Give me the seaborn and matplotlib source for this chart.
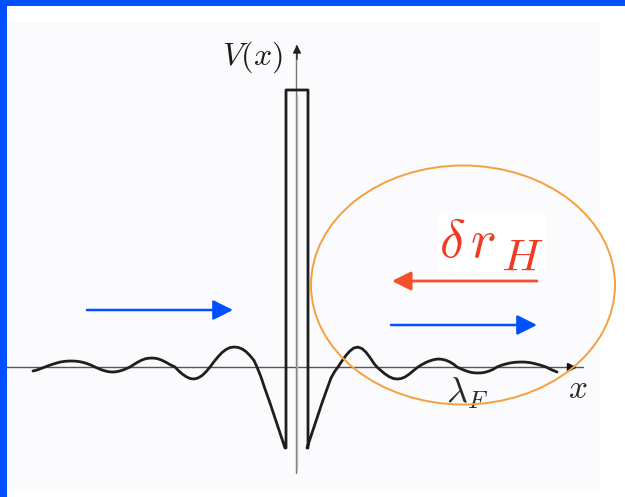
import matplotlib
matplotlib.use("Agg")
import matplotlib.pyplot as plt
import matplotlib.patches as mpatches
import seaborn as sns
import pandas as pd

# ---- data (diagram coordinates, pixels, y downward) ----
left_wave_x = [33, 37, 41, 45, 50, 55, 60, 65, 70, 75, 80, 85, 90, 95,
               99, 103, 107, 111, 115, 119, 123, 127, 130,
               134, 138, 142, 146, 150, 154, 158, 162, 166, 170, 175,
               178, 182, 186, 190, 194, 198, 202, 206, 210,
               214, 218, 222, 226, 230, 234, 238, 242, 246, 250, 254, 257,
               261, 265, 270, 275, 280, 285]
left_wave_y = [371, 370, 368.5, 367, 365.1, 363.5, 362.1, 361.3, 361, 361.1, 361.7, 362.9, 364.7, 367,
               368.8, 370.3, 371.4, 372, 371.9, 371.2, 370, 368.3, 367,
               364.4, 362, 360, 358.6, 358.1, 358.1, 358.8, 360.3, 362.3, 364.6, 367,
               370.2, 373.8, 376.6, 378.5, 379, 378, 375.6, 371.8, 367,
               361.7, 356.8, 352.6, 349.5, 347.6, 347, 347.4, 348.9, 351.6, 355.6, 360.5, 367,
               377, 389, 403, 418, 433, 448]
barrier_x = [286, 286, 308, 308]
barrier_y = [448, 90, 90, 448]
right_wave_x = [307, 312, 317, 322, 327, 331, 335, 338,
                342, 346, 350, 354, 358, 362, 366, 370, 374, 377,
                381, 385, 389, 393, 397, 401, 405, 409, 413, 418,
                422, 426, 430, 434, 438, 442, 446, 450, 454, 457,
                461, 465, 469, 473, 477, 481, 485, 489, 493, 497,
                501, 505, 510, 515, 520, 525, 530, 535, 540, 546, 551, 557]
right_wave_y = [448, 433, 418, 403, 389, 378, 371, 367,
                360.9, 355.4, 350.9, 347.9, 347.1, 348.6, 352.2, 357.5, 363.5, 367,
                370.6, 373.9, 376.6, 378.4, 379, 378.6, 377, 374.3, 371, 367,
                364.5, 362.4, 360.8, 359.6, 359, 359.3, 360.3, 362, 364.5, 367,
                368.9, 370.5, 371.9, 372.7, 373, 372.9, 372.3, 371.1, 369.4, 367,
                365.4, 364.2, 363, 362.3, 362, 362.1, 362.6, 363.7, 365, 367, 369.5, 372]

axis_x_span = [5, 583]
axis_y_level = 367
axis_v_pos = 296
axis_v_span = [473, 45]

blue_arrows = [((87, 310), (233, 310)), ((391, 325), (537, 325))]
red_arrow = ((537, 281), (392, 281))
ellipse_center = (463, 285)
ellipse_size = (304, 239)

# ---- figure ----
sns.set_theme(style="white")
plt.rcParams["mathtext.fontset"] = "cm"
fig = plt.figure(figsize=(6.25, 4.97), dpi=100)
fig.patch.set_facecolor("white")
ax = fig.add_axes([0, 0, 1, 1])
ax.set_xlim(0, 625)
ax.set_ylim(497, 0)
ax.axis("off")

blue = "#0050ff"
# frame
ax.add_patch(mpatches.Rectangle((0, 0), 625, 5.5, color=blue, lw=0, zorder=1))
ax.add_patch(mpatches.Rectangle((0, 0), 6.5, 497, color=blue, lw=0, zorder=1))
ax.add_patch(mpatches.Rectangle((6.5, 22), 593.5, 470, color="#fbfafd", lw=0, zorder=1))

# axes of the diagram
sns.lineplot(x=axis_x_span, y=[axis_y_level, axis_y_level], ax=ax, color="#555555",
             lw=1.0, sort=False, estimator=None, zorder=2)
sns.lineplot(x=[axis_v_pos, axis_v_pos], y=axis_v_span, ax=ax, color="#777777",
             lw=1.0, sort=False, estimator=None, zorder=2)
ax.annotate("", xy=(axis_v_pos + 1, 42), xytext=(axis_v_pos + 1, 62),
            arrowprops=dict(arrowstyle="-|>", color="#222222", lw=1.0,
                            mutation_scale=12), zorder=3)
ax.plot([571], [axis_y_level], marker=">", color="#111111", markersize=6, zorder=3)

# potential curve
curve = pd.DataFrame({
    "x": left_wave_x + barrier_x + right_wave_x,
    "y": left_wave_y + barrier_y + right_wave_y,
})
sns.lineplot(data=curve, x="x", y="y", ax=ax, color="#1e1e1e", lw=2.0,
             sort=False, estimator=None, zorder=4)
sns.lineplot(x=[297, 297], y=[95, 470], ax=ax, color="#bbbbbb", lw=1.0,
             sort=False, estimator=None, zorder=3)

# labels
ax.text(252, 57, r"$V(x)$", fontsize=23, ha="center", va="center", color="#1a1a1a", zorder=5)
ax.text(578, 388, r"$x$", fontsize=24, ha="center", va="center", color="#2a2a2a", zorder=5)
ax.text(446, 403, r"$\lambda_F$", fontsize=26, ha="left", va="baseline", color="#2a2a2a", zorder=5)

# orange ellipse
ax.add_patch(mpatches.Ellipse(ellipse_center, ellipse_size[0], ellipse_size[1],
                              fill=False, ec="#f5a040", lw=1.4, zorder=6))

# red label with white box
ax.add_patch(mpatches.Rectangle((439, 213), 106, 59, color="white", lw=0, zorder=5))
red = "#f03a22"
ax.text(439, 257, r"$\delta\,r$", fontsize=39, ha="left", va="baseline", color=red, zorder=7)
ax.text(501, 271, r"$H$", fontsize=33, ha="left", va="baseline", color=red, zorder=7)

# arrows
for (x0, y0), (x1, y1) in blue_arrows:
    ax.annotate("", xy=(x1, y1), xytext=(x0, y0),
                arrowprops=dict(arrowstyle="-|>,head_length=1.1,head_width=0.55",
                                color=blue, lw=1.8, mutation_scale=11,
                                shrinkA=0, shrinkB=0), zorder=7)
(x0, y0), (x1, y1) = red_arrow
ax.annotate("", xy=(x1, y1), xytext=(x0, y0),
            arrowprops=dict(arrowstyle="-|>,head_length=1.1,head_width=0.55",
                            color="#f4502c", lw=2.0, mutation_scale=10.5,
                            shrinkA=0, shrinkB=0), zorder=7)

fig.savefig("out.png", dpi=100, facecolor="white")
